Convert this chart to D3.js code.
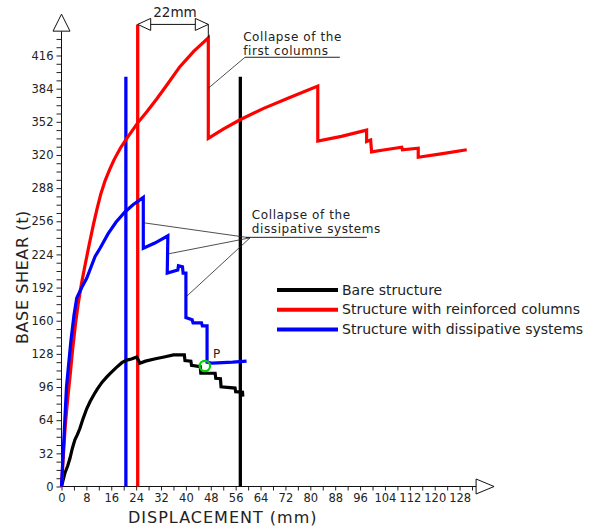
<!DOCTYPE html>
<html>
<head>
<meta charset="utf-8">
<script src="https://cdn.jsdelivr.net/npm/d3@7"></script>
<style>
  html, body { margin: 0; padding: 0; background: #fff; }
  svg { display: block; }
  text { font-family: "DejaVu Sans", Verdana, sans-serif; fill: #222; }
</style>
</head>
<body>
<svg id="chart" width="589" height="526"></svg>
<script>
// Pushover curves: displacement (mm) vs base shear (t)
const bareStructure = [
  [0,0],[0.5,6],[1.1,13],[2,20],[2.7,27],[3.5,37],[4.3,45],[5.1,50],[5.9,56],[7,66],
  [8.1,75],[9.2,82],[10.5,89],[11.5,94],[13,100.5],[14.5,105.5],[15.6,109],[17.5,114.5],
  [19.4,119.5],[21,122],[22.5,123],[24.2,125],[25.2,119],[27,121],[30.6,123.5],[33,125],
  [36,127],[39.5,127],[39.7,121.5],[41.6,121],[41.8,117],[44.6,115.6],[44.8,109.3],
  [49.4,109.3],[49.6,104.4],[51.1,104],[51.3,96.3],[55.8,95],[56,91.5],[58.2,91],[58.3,86.7]
];
const reinforcedColumns = [
  [0,0],[0.6,30],[1.2,58],[2,85],[2.8,108],[3.6,133],[4.5,157],[5.4,177],[6.5,197],
  [7.6,214],[8.8,232],[10.2,252],[11.5,269],[12.6,282],[14,295],[15.5,306],[17,316],
  [19,327],[21,336],[24.5,351],[27.5,362],[30.6,374],[34,388],[38,405],[42.5,420],[47.2,433],
  [47.2,336],[52,345],[57.4,354],[65,365],[73,375],[82.4,386.5],
  [82.4,333.5],[90,338],[98.1,344],[98.1,333],[99.4,334.4],[99.7,323],[104,325],
  [109.4,327.5],[109.6,325],[114.7,326.5],[114.7,317.8],[122,321],[130.3,325]
];
const dissipativeSystems = [
  [0,0],[0.5,30],[1,60],[1.6,96],[2.2,115],[3,140],[4,165],[4.9,182],[6.5,192],
  [8.1,201],[10.8,222],[12.4,230],[15,244],[17.5,255],[20.4,265],[23,272],[26.3,279],
  [26.3,230],[30,235],[34.2,242],[34,206],[37.4,209],[37.6,213],[38.9,212],[39.1,206],
  [40,206],[40,163],[42,161],[42.3,158],[45,158],[45.3,155],[46.8,155],[46.8,120],
  [48.5,119],[55,120],[59.5,121]
];

// Vertical reference lines: [displacement, top shear]
const refLines = [
  { x: 20.7, top: 395.6, color: "#0000ff" },
  { x: 24.5, top: 446, color: "#ff0000" },
  { x: 57.5, top: 395.6, color: "#000000" }
];

const seriesNames = ["Bare structure", "Structure with reinforced columns", "Structure with dissipative systems"];
const seriesColors = ["#000000", "#ff0000", "#0000ff"];

const yTicks = d3.range(0, 433, 8);
const xTicks = d3.range(0, 133, 4);

// Point P (intersection marker)
const pointP = [46.1, 116.3];

const svg = d3.select("#chart");
const x = d3.scaleLinear().domain([0, 128]).range([61.5, 459.6]);
const y = d3.scaleLinear().domain([0, 416]).range([486.5, 55.5]);

const xEnd = 133.3, yEnd = 439.5;

// Axes
const yAxis = d3.axisLeft(y).tickValues(yTicks).tickSize(5).tickPadding(3)
  .tickFormat(d => d % 32 === 0 ? d : "");
const xAxis = d3.axisBottom(x).tickValues(xTicks).tickSize(4).tickPadding(3)
  .tickFormat(d => d % 8 === 0 ? d : "");

const gy = svg.append("g").attr("transform", `translate(${x(0)},0)`).call(yAxis);
const gx = svg.append("g").attr("transform", `translate(0,${y(0)})`).call(xAxis);
[gx, gy].forEach(g => {
  g.select(".domain").remove();
  g.selectAll("line").attr("stroke", "#222");
  g.selectAll("text").style("font-size", "11.5px").attr("fill", "#222")
    .style("font-family", "DejaVu Sans, sans-serif");
});

svg.append("line").attr("x1", x(0)).attr("x2", x(xEnd)).attr("y1", y(0)).attr("y2", y(0))
  .attr("stroke", "#111").attr("stroke-width", 1);
svg.append("line").attr("x1", x(0)).attr("x2", x(0)).attr("y1", y(0)).attr("y2", y(yEnd))
  .attr("stroke", "#111").attr("stroke-width", 1);

// Open arrowheads at axis ends
const xa = x(xEnd), ya = y(yEnd);
svg.append("path")
  .attr("d", `M${xa},${y(0) - 7.5} L${xa + 18},${y(0)} L${xa},${y(0) + 7.5} Z`)
  .attr("fill", "#fff").attr("stroke", "#111");
svg.append("path")
  .attr("d", `M${x(0) - 8.5},${ya} L${x(0)},${ya - 17} L${x(0) + 8.5},${ya} Z`)
  .attr("fill", "#fff").attr("stroke", "#111");

// Axis titles
svg.append("text").attr("x", 128).attr("y", 523)
  .style("font-size", "16px").style("letter-spacing", "1px")
  .text("DISPLACEMENT (mm)");
svg.append("text").attr("transform", "translate(28,344) rotate(-90)")
  .style("font-size", "16px").style("letter-spacing", "0.6px")
  .text("BASE SHEAR (t)");

// Reference verticals
svg.selectAll(".ref").data(refLines).enter().append("line")
  .attr("x1", d => x(d.x)).attr("x2", d => x(d.x))
  .attr("y1", y(0)).attr("y2", d => y(d.top))
  .attr("stroke", d => d.color).attr("stroke-width", 3.3);

// Curves
const line = d3.line().x(d => x(d[0])).y(d => y(d[1]));
[bareStructure, reinforcedColumns, dissipativeSystems].forEach((s, i) => {
  svg.append("path").datum(s).attr("d", line)
    .attr("fill", "none").attr("stroke", seriesColors[i])
    .attr("stroke-width", 3.2).attr("stroke-linejoin", "miter").attr("stroke-miterlimit", 3);
});

// Point P
svg.append("circle").attr("cx", x(pointP[0])).attr("cy", y(pointP[1])).attr("r", 5.2)
  .attr("fill", "none").attr("stroke", "#00d000").attr("stroke-width", 2.2);
svg.append("text").attr("x", x(pointP[0]) + 8).attr("y", y(pointP[1]) - 8)
  .style("font-size", "12px").attr("fill", "#4a3a2a").text("P");

// 22mm dimension between red vertical and peak of reinforced curve
const dimY = 446, dimL = 24.5, dimR = 47.2, peakV = 433;
const dy = y(dimY), dl = x(dimL), dr = x(dimR);
svg.append("line").attr("x1", dl).attr("x2", dr).attr("y1", dy).attr("y2", dy)
  .attr("stroke", "#111").attr("stroke-width", 1);
svg.append("line").attr("x1", dr).attr("x2", dr).attr("y1", dy).attr("y2", y(peakV))
  .attr("stroke", "#111").attr("stroke-width", 1);
svg.append("path").attr("d", `M${dl},${dy} L${dl + 13},${dy - 6} L${dl + 13},${dy + 6} Z`)
  .attr("fill", "#fff").attr("stroke", "#111");
svg.append("path").attr("d", `M${dr},${dy} L${dr - 13},${dy - 6} L${dr - 13},${dy + 6} Z`)
  .attr("fill", "#fff").attr("stroke", "#111");
svg.append("text").attr("x", (dl + dr) / 2 + 2).attr("y", dy - 7).attr("text-anchor", "middle")
  .style("font-size", "13.5px").text("22mm");

// Two-line annotation label drawn as one text block
function annotationText(tx, l1, lines) {
  const t = svg.append("text").attr("x", x(tx)).attr("y", y(l1))
    .style("font-size", "12px").style("letter-spacing", "0.6px");
  lines.forEach((s, i) => {
    t.append("tspan").attr("x", x(tx)).attr("dy", i === 0 ? 0 : 13.6).text(s);
  });
}

// Annotation: collapse of first columns
const ann1 = { tx: 58.4, l1: 430, ux0: 59, ux1: 89.5, uy: 414.3, target: [47.2, 384.4] };
svg.append("line").attr("x1", x(ann1.ux0)).attr("x2", x(ann1.ux1)).attr("y1", y(ann1.uy)).attr("y2", y(ann1.uy))
  .attr("stroke", "#222").attr("stroke-width", 1);
svg.append("line").attr("x1", x(ann1.ux0)).attr("y1", y(ann1.uy))
  .attr("x2", x(ann1.target[0])).attr("y2", y(ann1.target[1]))
  .attr("stroke", "#222").attr("stroke-width", 0.8);
annotationText(ann1.tx, ann1.l1, ["Collapse of the", "first columns"]);

// Annotation: collapse of dissipative systems
const ann2 = { tx: 61.2, l1: 258.2, ux0: 59.3, ux1: 98.2, uy: 240.5, hub: [60.6, 240],
  targets: [[26.3, 254.6], [34.1, 224.4], [40.1, 183.2]] };
svg.append("line").attr("x1", x(ann2.ux0)).attr("x2", x(ann2.ux1)).attr("y1", y(ann2.uy)).attr("y2", y(ann2.uy))
  .attr("stroke", "#222").attr("stroke-width", 1);
ann2.targets.forEach(t => {
  svg.append("line").attr("x1", x(ann2.hub[0])).attr("y1", y(ann2.hub[1]))
    .attr("x2", x(t[0])).attr("y2", y(t[1]))
    .attr("stroke", "#222").attr("stroke-width", 0.8);
});
annotationText(ann2.tx, ann2.l1, ["Collapse of the", "dissipative systems"]);

// Legend
const legend = svg.append("g").attr("transform", "translate(277,290)");
seriesNames.forEach((name, i) => {
  const g = legend.append("g").attr("transform", `translate(0,${i * 19.7})`);
  g.append("line").attr("x1", 0).attr("x2", 61).attr("y1", 0).attr("y2", 0)
    .attr("stroke", seriesColors[i]).attr("stroke-width", 4);
  g.append("text").attr("x", 65).attr("y", 4.6).style("font-size", "14px").text(name);
});
</script>
</body>
</html>
